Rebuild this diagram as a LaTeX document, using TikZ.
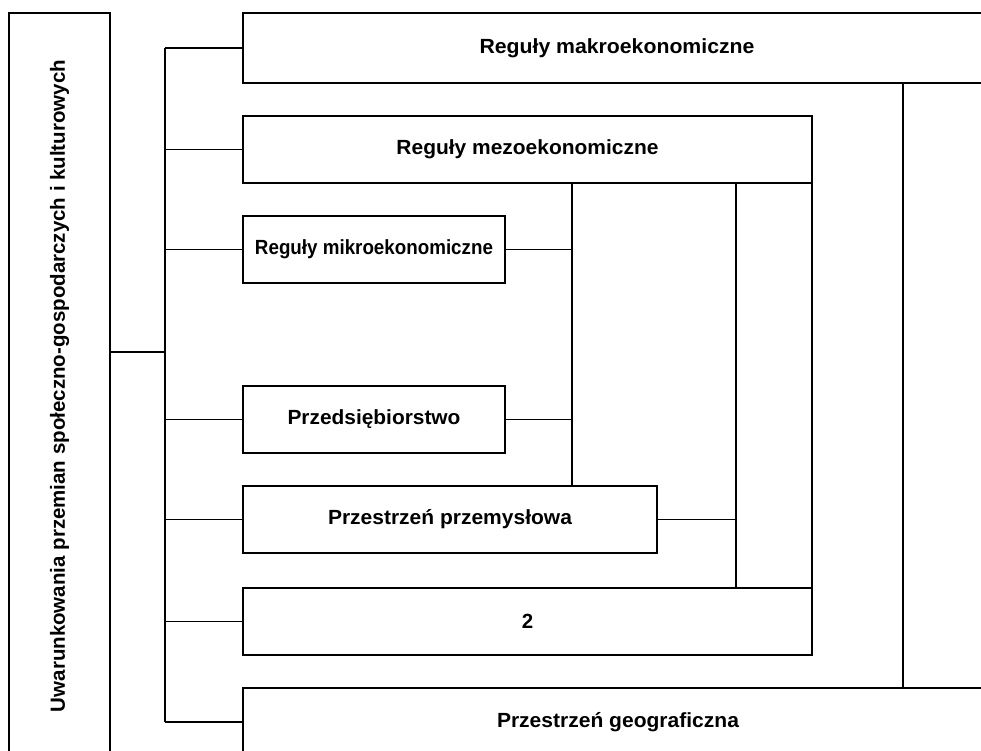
\documentclass[tikz,border=0pt]{standalone}
\usepackage{fontspec}
\setmainfont{Liberation Sans}
\usepackage{graphicx}
\newcommand\fitto[2]{\resizebox{#1pt}{\height}{#2}}
\begin{document}
\begin{tikzpicture}[x=1pt,y=-1pt,
  box/.style={draw, line width=1.5pt, inner sep=0pt, outer sep=0pt,
    font=\fontsize{20.5}{22}\selectfont\bfseries},
  link/.style={line width=1.5pt}]
\useasboundingbox (0,0) rectangle (981,751);
% boxes
\node[box, minimum width=101pt, minimum height=746pt] (left) at (59.5,386)
  {\rotatebox{90}{\fitto{652}{Uwarunkowania przemian społeczno-gospodarczych i kulturowych}}};
\node[box, minimum width=748pt, minimum height=70pt] (makro) at (617,48)
  {\fitto{275}{Reguły  makroekonomiczne}};
\node[box, minimum width=569pt, minimum height=67pt] (mezo) at (527.5,149.5)
  {\fitto{262}{Reguły mezoekonomiczne}};
\node[box, minimum width=262pt, minimum height=67pt] (mikro) at (374,249.5)
  {\fitto{238}{Reguły mikroekonomiczne}};
\node[box, minimum width=262pt, minimum height=67pt] (przed) at (374,419.5)
  {\fitto{173}{Przedsiębiorstwo}};
\node[box, minimum width=414pt, minimum height=67pt] (przem) at (450,519.5)
  {\fitto{244}{Przestrzeń przemysłowa}};
\node[box, minimum width=569pt, minimum height=67pt] (two) at (527.5,621.5)
  {2};
\node[box, minimum width=750pt, minimum height=68pt] (geo) at (618,722)
  {\fitto{242}{Przestrzeń geograficzna}};
% helper coordinates (x positions of the vertical connectors)
\coordinate (bus) at (165,352);
\coordinate (r1) at (572,0);
\coordinate (r2) at (736,0);
\coordinate (r3) at (903,0);
% left bus
\draw[link] (left.east |- bus) -- (bus);
\draw[link] (makro.west -| bus) -- (geo.west -| bus);
\foreach \b in {makro,mezo,mikro,przed,przem,two,geo}
  \draw[link] (\b.west) -- (\b.west -| bus);
% right connectors
\draw[link] (mezo.south -| r1) -- (przem.north -| r1);
\draw[link] (mikro.east) -- (mikro.east -| r1);
\draw[link] (przed.east) -- (przed.east -| r1);
\draw[link] (mezo.south -| r2) -- (two.north -| r2);
\draw[link] (przem.east) -- (przem.east -| r2);
\draw[link] (mezo.south east) -- (two.north east);
\draw[link] (makro.south -| r3) -- (geo.north -| r3);
\end{tikzpicture}
\end{document}
